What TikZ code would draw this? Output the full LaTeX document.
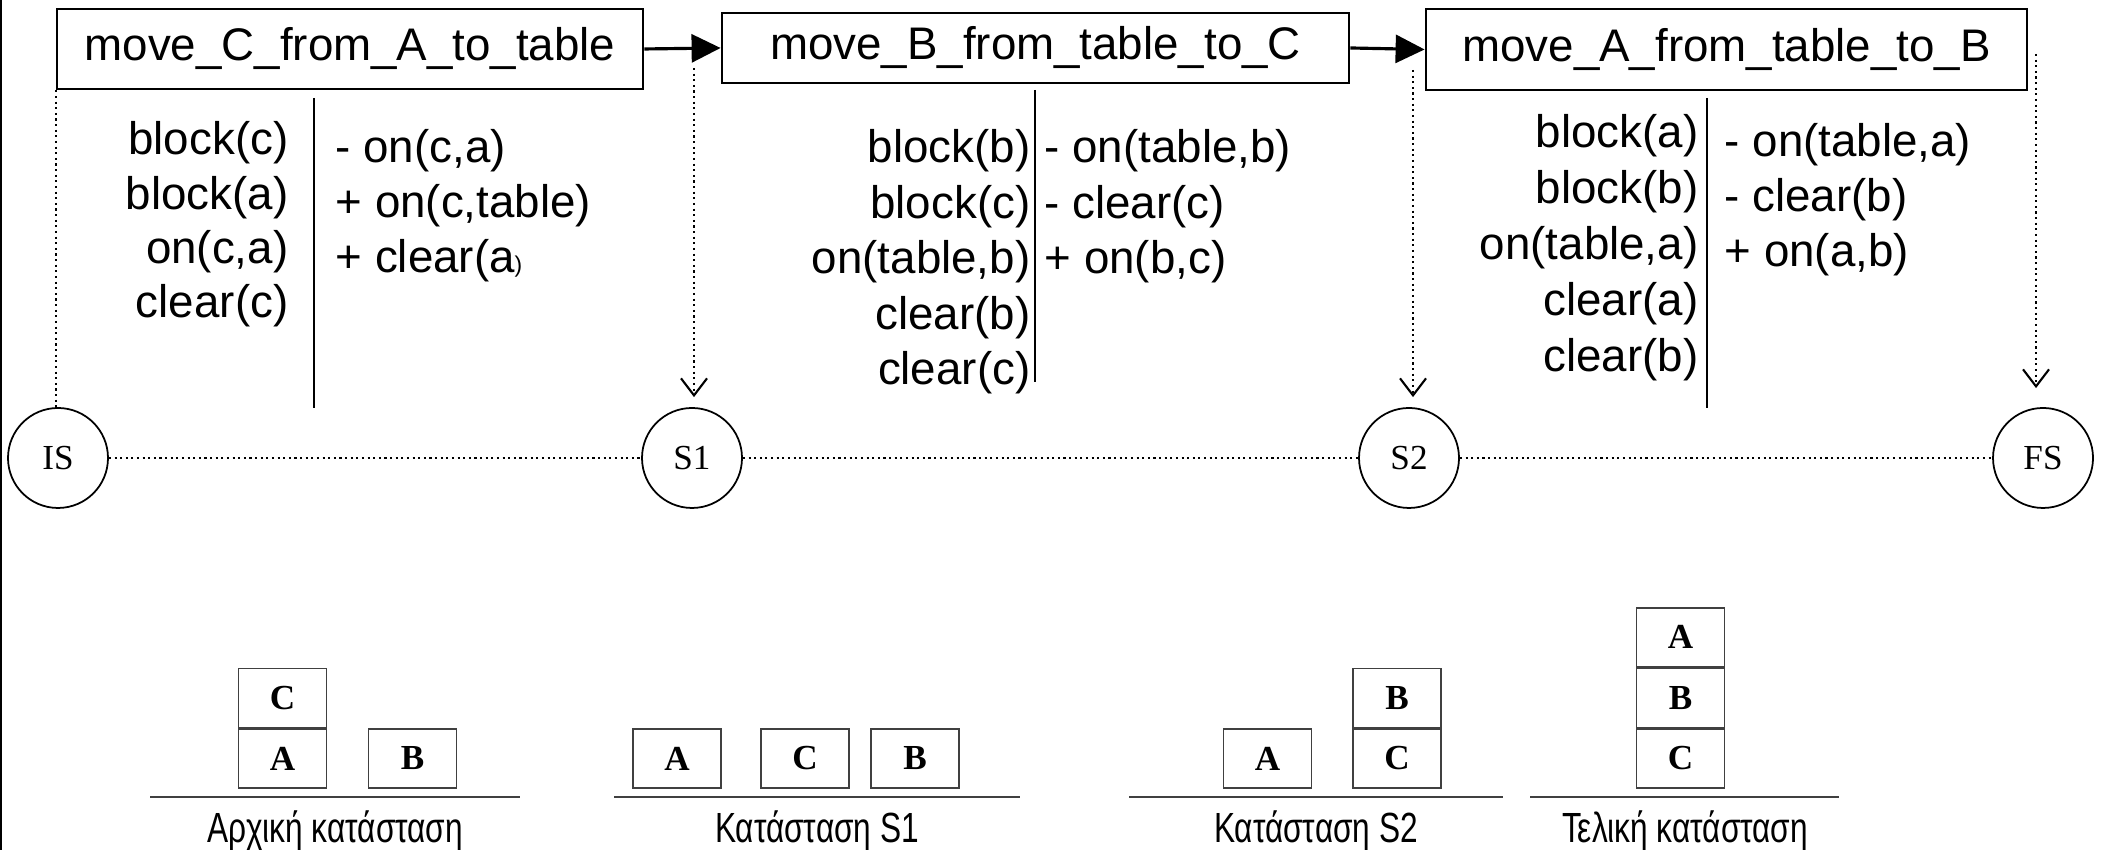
\documentclass[tikz,border=0pt]{standalone}
\usepackage{fontspec}
\setmainfont{Liberation Sans}
\newfontfamily\blockfont{Liberation Serif}
\newfontfamily\narrowfont{Liberation Sans}[FakeStretch=0.75]
\usepackage{tikz}
\usetikzlibrary{arrows.meta, positioning}

% the closing bracket that is set smaller in one effect
\newcommand{\tinyparen}{{\fontsize{6.5}{8}\selectfont)}}

\begin{document}
\begin{tikzpicture}[
  action/.style={
    draw, line width=0.8pt, inner sep=0pt,
    font=\fontsize{13}{15}\selectfont
  },
  cond/.style={
    inner sep=0pt, font=\fontsize{13}{15}\selectfont
  },
  state/.style={
    draw, circle, line width=0.5pt, minimum size=1cm, inner sep=0pt,
    font=\blockfont\fontsize{10}{12}\selectfont
  },
  blk/.style={
    draw=black!75, line width=0.45pt, inner sep=0pt,
    minimum width=0.88cm, minimum height=0.59cm,
    font=\blockfont\bfseries\fontsize{10}{12}\selectfont
  },
  ground/.style={draw=black!75, line width=0.5pt},
  caption/.style={anchor=base, inner sep=0pt, font=\narrowfont\fontsize{12}{14}\selectfont},
  link/.style={line width=0.9pt, -{Triangle[length=0.29cm, width=0.28cm]}},
  trace/.style={densely dotted, line width=0.6pt},
  effect/.style={trace, -{Straight Barb[length=0.17cm, width=0.26cm]}}
]
\useasboundingbox (0, 0) rectangle (21.05, 8.5);

% frame edge on the left
\draw[line width=0.5pt] (0.01, 0) -- (0.01, 8.5);

% ============================================================
% Plan: the three actions
% ============================================================
\node[action, minimum width=5.86cm, minimum height=0.80cm] (mv1)
  at (3.50, 8.01) {move\_C\_from\_A\_to\_table};
\node[action, minimum width=6.27cm, minimum height=0.70cm] (mv2)
  at (10.355, 8.02) {move\_B\_from\_table\_to\_C};
\node[action, minimum width=6.01cm, minimum height=0.81cm] (mv3)
  at (17.265, 8.005) {move\_A\_from\_table\_to\_B};

\draw[link] (mv1.east) -- (mv2.west);
\draw[link] (mv2.east) -- (mv3.west);

% preconditions (left) and effects (right) of each action
\foreach \t [count=\i] in {block(c), block(a), {on(c,a)}, clear(c)}
  \node[cond, anchor=base east] (pre1-\i) at (2.89, {6.95-0.543*(\i-1)}) {\t};
\foreach \t [count=\i] in {{- on(c,a)}, {+ on(c,table)}, + clear(a\tinyparen}
  \node[cond, anchor=base west] (eff1-\i) at (3.35, {6.87-0.55*(\i-1)}) {\t};
\draw[line width=0.8pt] (3.14, 7.52) -- (3.14, 4.42);

\foreach \t [count=\i] in {block(b), block(c), {on(table,b)}, clear(b), clear(c)}
  \node[cond, anchor=base east] (pre2-\i) at (10.31, {6.87-0.555*(\i-1)}) {\t};
\foreach \t [count=\i] in {{- on(table,b)}, - clear(c), {+ on(b,c)}}
  \node[cond, anchor=base west] (eff2-\i) at (10.44, {6.87-0.555*(\i-1)}) {\t};
\draw[line width=0.8pt] (10.35, 7.60) -- (10.35, 7.33);
\draw[line width=0.35pt] (10.35, 7.33) -- (10.35, 4.68);

\foreach \t [count=\i] in {block(a), block(b), {on(table,a)}, clear(a), clear(b)}
  \node[cond, anchor=base east] (pre3-\i) at (16.99, {7.02-0.56*(\i-1)}) {\t};
\foreach \t [count=\i] in {{- on(table,a)}, - clear(b), {+ on(a,b)}}
  \node[cond, anchor=base west] (eff3-\i) at (17.24, {6.93-0.55*(\i-1)}) {\t};
\draw[line width=0.8pt] (17.07, 7.52) -- (17.07, 4.42);

% ============================================================
% States
% ============================================================
\node[state] (IS) at (0.58, 3.92) {IS};
\node[state] (S1) at (6.92, 3.92) {S1};
\node[state] (S2) at (14.09, 3.92) {S2};
\node[state] (FS) at (20.43, 3.92) {FS};

\draw[trace] (IS) -- (S1);
\draw[trace] (S1) -- (S2);
\draw[trace] (S2) -- (FS);

% where each action leads
\coordinate (d1) at (6.94, 7.82);
\coordinate (d2) at (14.13, 7.80);
\coordinate (d3) at (20.36, 7.96);
\draw[trace] (mv1.south west) -- (mv1.south west |- IS.north);
\draw[effect, shorten >=0.1cm] (d1) -- (d1 |- S1.north);
\draw[effect, shorten >=0.1cm] (d2) -- (d2 |- S2.north);
\draw[effect, shorten >=0.19cm] (d3) -- (d3 |- FS.north);

% ============================================================
% Block worlds
% ============================================================
% initial
\node[blk] (a0) at (2.825, 0.915) {A};
\node[blk, above=0pt of a0] (c0) {C};
\node[blk] (b0) at (4.125, 0.915) {B};
\draw[ground] (1.50, 0.53) -- (5.20, 0.53);
\node[caption] (cap0) at (3.35, 0.07) {Αρχική κατάσταση};

% S1
\node[blk] (a1) at (6.77, 0.915) {A};
\node[blk] (c1) at (8.05, 0.915) {C};
\node[blk] (b1) at (9.15, 0.915) {B};
\draw[ground] (6.14, 0.53) -- (10.20, 0.53);
\node[caption] (cap1) at (8.17, 0.07) {Κατάσταση S1};

% S2
\node[blk] (a2) at (12.675, 0.915) {A};
\node[blk] (c2) at (13.97, 0.915) {C};
\node[blk, above=0pt of c2] (b2) {B};
\draw[ground] (11.29, 0.53) -- (15.03, 0.53);
\node[caption] (cap2) at (13.16, 0.07) {Κατάσταση S2};

% final
\node[blk] (c3) at (16.805, 0.915) {C};
\node[blk, above=0pt of c3] (b3) {B};
\node[blk, above=0pt of b3] (a3) {A};
\draw[ground] (15.30, 0.53) -- (18.39, 0.53);
\node[caption] (cap3) at (16.85, 0.07) {Τελική κατάσταση};

\end{tikzpicture}
\end{document}
